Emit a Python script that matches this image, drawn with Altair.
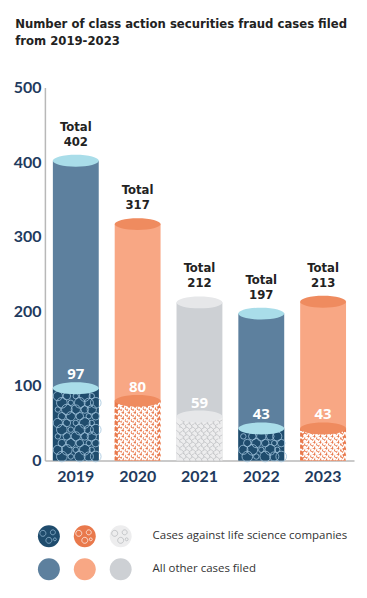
import altair as alt
import pandas as pd

# ---- data ----
years = ["2019", "2020", "2021", "2022", "2023"]
totals = [402, 317, 212, 197, 213]
life_science = [97, 80, 59, 43, 43]
family = ["blue", "orange", "gray", "blue", "orange"]

legend_labels = ["Cases against life science companies", "All other cases filed"]

# ---- styles ----
COND = "'Liberation Sans Narrow', 'DejaVu Sans Condensed', Roboto, sans-serif"
fam_domain = ["blue", "orange", "gray"]
body_colors = ["#5d809e", "#f8a784", "#cdd0d4"]
cap_colors = ["#a9dde9", "#ef8b5f", "#e6e7e9"]
ls_colors = ["#1f4c6d", "#e9794c", "#ededee"]
tex_colors = ["#9fc3dc", "#ffffff", "#b3b5b8"]

df = pd.DataFrame({"year": years, "total": totals, "ls": life_science, "family": family})

W, H = 310, 374
BAR = 46
ELLIPSE = "M-1,0A1,0.26,0,1,1,1,0A1,0.26,0,1,1,-1,0Z"

x_enc = alt.X(
    "year:N", sort=years, title=None,
    scale=alt.Scale(paddingInner=0.258, paddingOuter=0.129),
    axis=alt.Axis(labelFont="Lato", labelFontWeight="bold", labelFontSize=16,
                  labelColor="#1f3b5e", labelPadding=8, labelAngle=0,
                  domainColor="#b8b8b8", domainWidth=1.5, ticks=False, grid=False),
)
yscale = alt.Scale(domain=[0, 500])
y_axis = alt.Axis(values=[0, 100, 200, 300, 400, 500], labelFont="Lato", labelFontWeight="bold",
                  labelFontSize=16, labelColor="#1f3b5e", labelPadding=4, ticks=False, grid=False,
                  domainColor="#b8b8b8", domainWidth=1.5)

def fam_fill(rng):
    return alt.Fill("family:N", scale=alt.Scale(domain=fam_domain, range=rng), legend=None)

base = alt.Chart(df)

body = base.mark_bar(size=BAR).encode(
    x=x_enc, y=alt.Y("total:Q", scale=yscale, axis=y_axis, title=None), fill=fam_fill(body_colors))

lsbar = base.mark_bar(size=BAR).encode(
    x=x_enc, y=alt.Y("ls:Q", scale=yscale), fill=fam_fill(ls_colors))

def texture(fam, ystep, xs, shape, size_expr, sw):
    return base.transform_filter(f"datum.family == '{fam}'").transform_calculate(
        ty=f"sequence({ystep * 0.6}, datum.ls - {ystep * 0.6}, {ystep})"
    ).transform_flatten(["ty"]).transform_calculate(
        tx=str(xs)
    ).transform_flatten(["tx"]).transform_calculate(
        row=f"round(datum.ty / {ystep})",
        tx2="datum.tx + (datum.row % 2 ? 2 : -2)",
        sz=size_expr,
    ).mark_point(shape=shape, filled=False, strokeWidth=sw, opacity=1).encode(
        x=x_enc,
        xOffset=alt.XOffset("tx2:Q", scale=alt.Scale(domain=[-23, 23], range=[0, BAR])),
        y=alt.Y("ty:Q", scale=yscale),
        size=alt.Size("sz:Q", scale=None, legend=None),
        stroke=alt.Stroke("family:N", scale=alt.Scale(domain=fam_domain, range=tex_colors), legend=None),
    )

SQUIGGLE = "M-1,0.3C-0.6,-1,-0.2,1,0.2,-0.1S0.7,-0.6,1,0.4"
tex_blue = texture("blue", 9, [-16, -7, 2, 11, 18], "circle",
                   "30 + (abs(datum.tx * 3 + datum.row * 5) % 4) * 28", 0.8)
tex_orange = texture("orange", 4, [-18, -12, -6, 0, 6, 12, 18], SQUIGGLE, "49", 1.4)
tex_gray = texture("gray", 5, [-18, -12, -6, 0, 6, 12, 18], "M-1,-0.6L0,0.2L0.9,-0.3M0,0.2L0.2,1",
                   "40", 0.6)

cap_top = base.mark_point(shape=ELLIPSE, size=BAR * BAR, filled=True, opacity=1, strokeWidth=0).encode(
    x=x_enc, y=alt.Y("total:Q", scale=yscale), fill=fam_fill(cap_colors))
cap_ls = base.mark_point(shape=ELLIPSE, size=BAR * BAR, filled=True, opacity=1, strokeWidth=0).encode(
    x=x_enc, y=alt.Y("ls:Q", scale=yscale), fill=fam_fill(cap_colors))

txt_style = dict(font=COND, fontWeight="bold", fontSize=13, color="#222222", baseline="middle")
total_num = base.mark_text(dy=-19, **txt_style).encode(
    x=x_enc, y=alt.Y("total:Q", scale=yscale), text="total:Q")
total_word = base.mark_text(dy=-34, **txt_style).encode(
    x=x_enc, y=alt.Y("total:Q", scale=yscale), text=alt.value("Total"))

ls_txt = base.mark_text(baseline="middle", dy=-14, font="Open Sans", fontWeight="bold",
                        fontSize=15, color="#ffffff").encode(
    x=x_enc, y=alt.Y("ls:Q", scale=yscale), text="ls:Q")

main = alt.layer(body, lsbar, tex_blue, tex_orange, tex_gray, cap_top, cap_ls,
                 total_num, total_word, ls_txt).resolve_scale(
    fill="independent", stroke="independent").properties(width=W, height=H)

# ---- legend ----
leg_rows = []
for r, kind in enumerate(["ls", "other"]):
    for c, fam in enumerate(fam_domain):
        leg_rows.append({"row": r, "col": c, "key": f"{kind}-{fam}", "fam": fam, "kind": kind})
leg_df = pd.DataFrame(leg_rows)
leg_keys = [f"{k}-{f}" for k in ["ls", "other"] for f in fam_domain]

lx = alt.X("col:Q", scale=alt.Scale(domain=[0, 2], range=[4, 76]), axis=None)
ly = alt.Y("row:Q", scale=alt.Scale(domain=[0, 1], range=[20, 53]), axis=None)
leg_dots = alt.Chart(leg_df).mark_point(shape="circle", size=484, filled=True, opacity=1).encode(
    x=lx, y=ly,
    fill=alt.Fill("key:N", scale=alt.Scale(domain=leg_keys, range=ls_colors + body_colors), legend=None))
LEG_TEX = ("M-0.6,-0.3m-0.3,0a0.3,0.3 0 1,0 0.6,0a0.3,0.3 0 1,0 -0.6,0"
           "M0.4,-0.4m-0.25,0a0.25,0.25 0 1,0 0.5,0a0.25,0.25 0 1,0 -0.5,0"
           "M0,0.4m-0.3,0a0.3,0.3 0 1,0 0.6,0a0.3,0.3 0 1,0 -0.6,0"
           "M0.6,0.3m-0.15,0a0.15,0.15 0 1,0 0.3,0a0.15,0.15 0 1,0 -0.3,0")
leg_tex = alt.Chart(leg_df).transform_filter("datum.kind == 'ls'").mark_point(
    shape=LEG_TEX, size=400, filled=False, strokeWidth=0.7, opacity=1).encode(
    x=lx, y=ly,
    stroke=alt.Stroke("fam:N", scale=alt.Scale(domain=fam_domain, range=tex_colors), legend=None))
leg_txt = alt.Chart(pd.DataFrame({"row": [0, 1], "label": legend_labels})).mark_text(
    align="left", baseline="middle", font="Open Sans", fontSize=11.5, color="#333333").encode(
    x=alt.value(108), y=ly, text="label:N")
legend = alt.layer(leg_dots, leg_tex, leg_txt).properties(width=300, height=66)

chart = alt.vconcat(main, legend, spacing=32).properties(
    padding={"left": 5, "top": 9, "right": 5, "bottom": 5},
    title=alt.TitleParams(
        ["Number of class action securities fraud cases filed", "from 2019-2023"],
        anchor="start", font=COND, fontWeight="bold", fontSize=13,
        lineHeight=17, color="#222222", offset=32, dx=2),
).configure_view(stroke=None)

chart.save("out.html", embed_options={"renderer": "svg", "actions": False})
